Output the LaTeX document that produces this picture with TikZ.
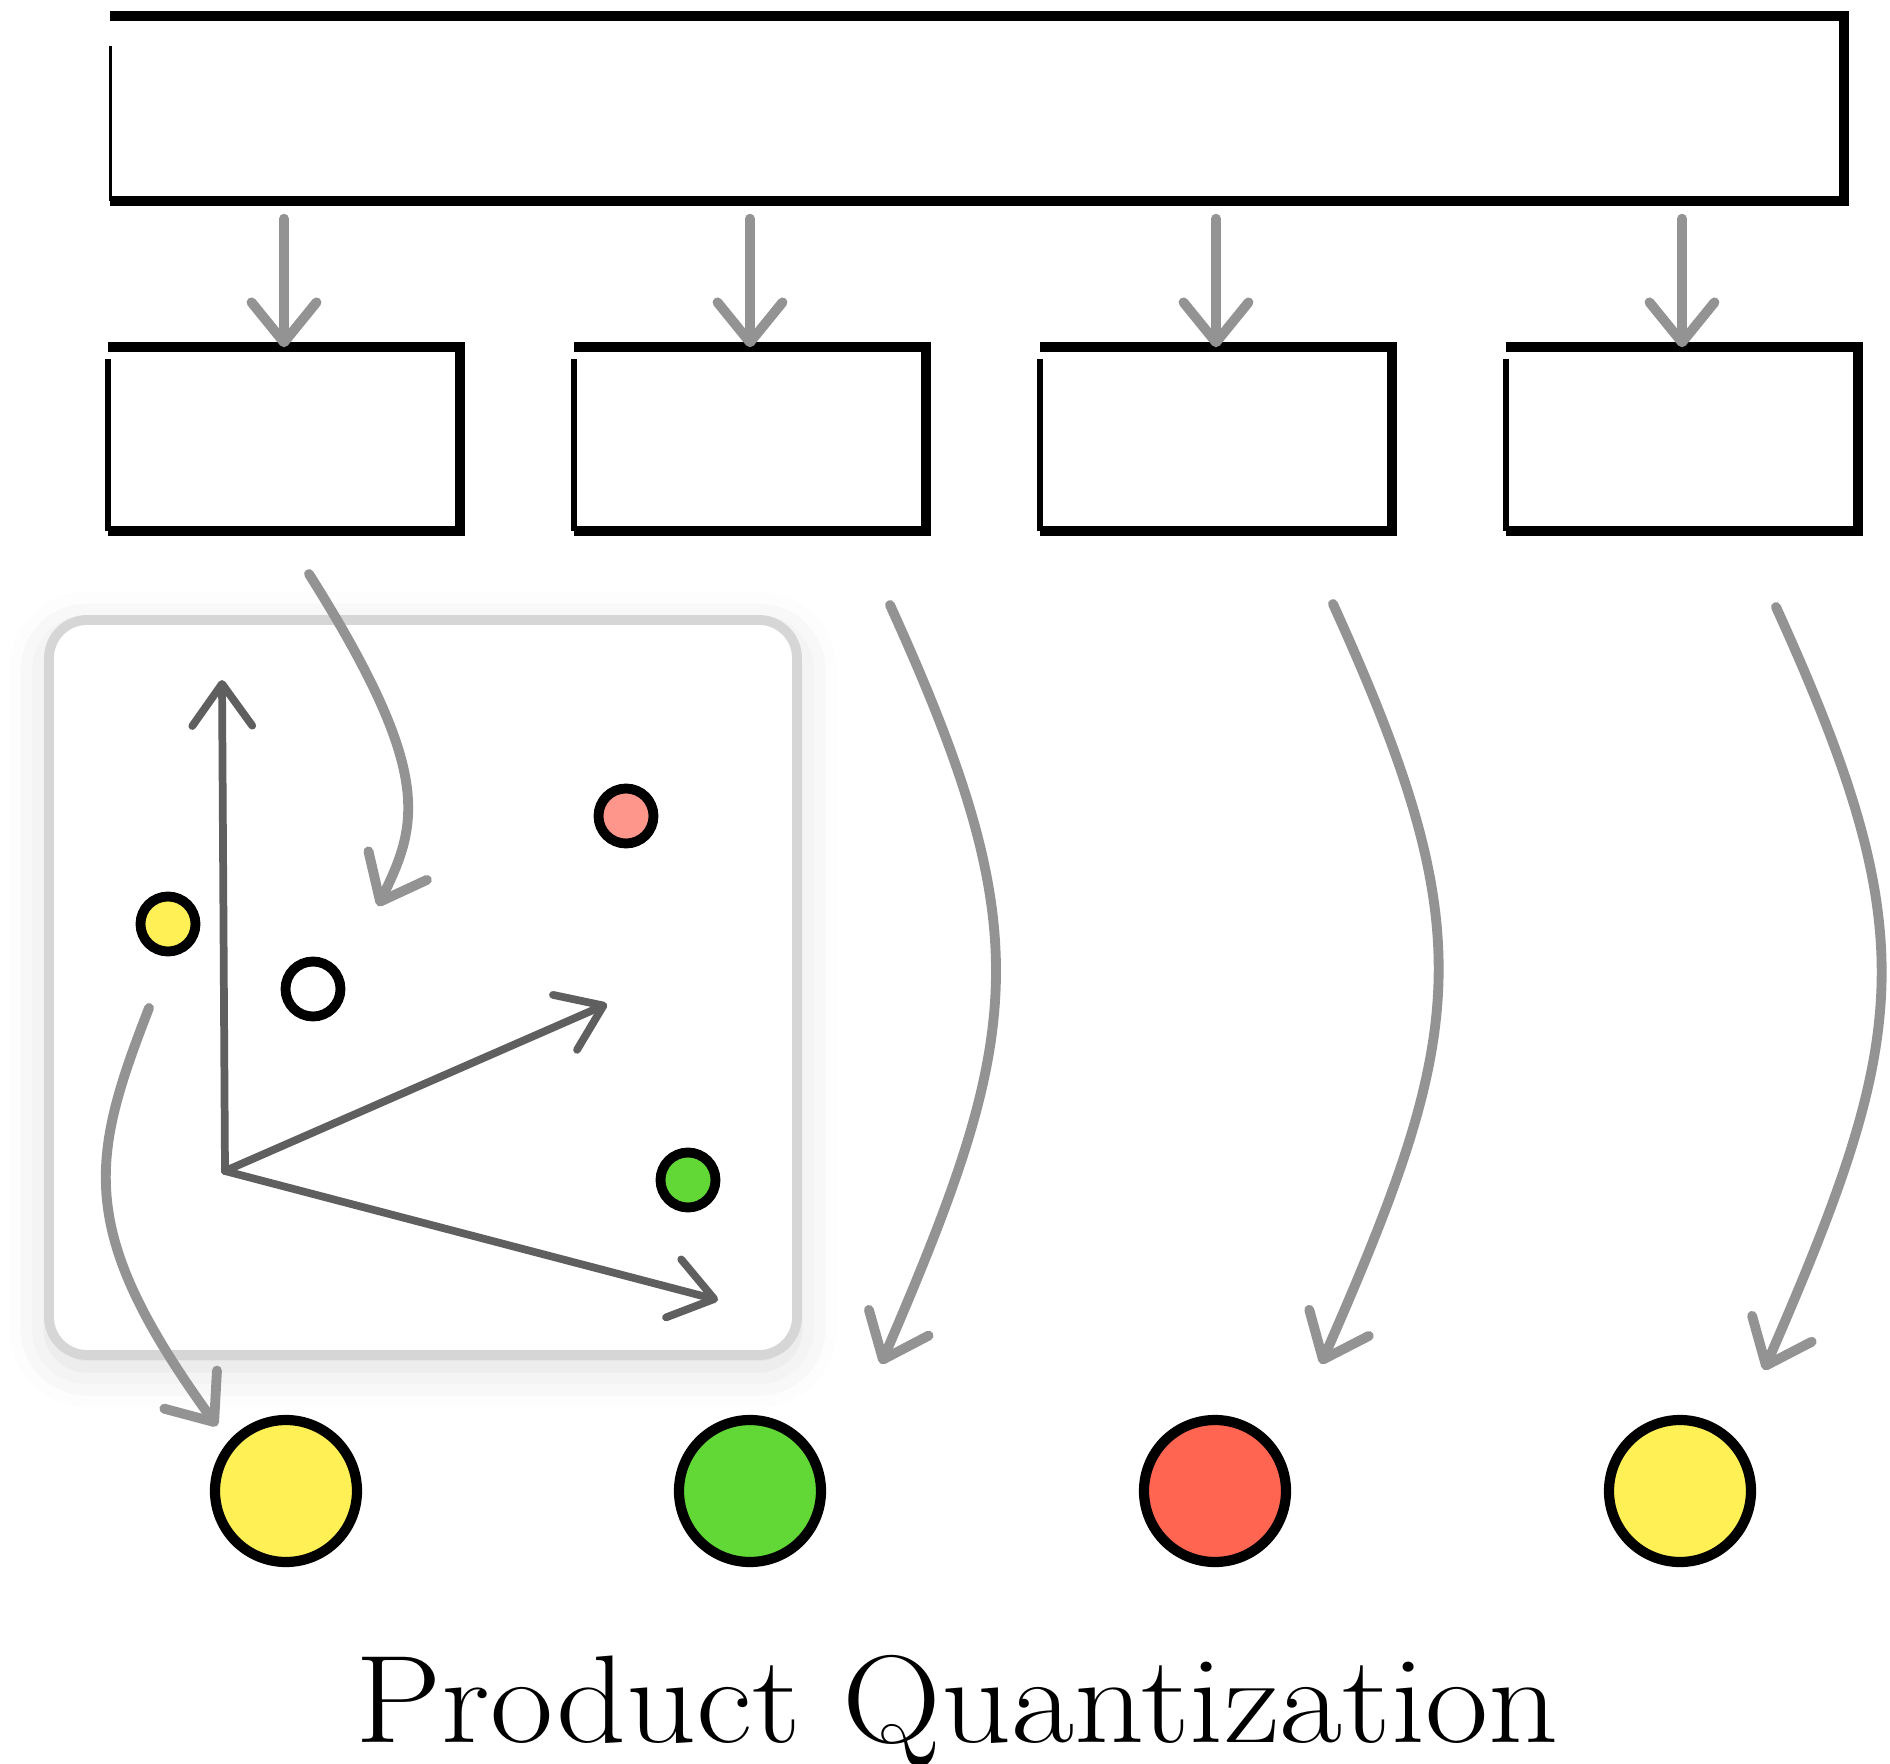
\documentclass[tikz,border=0pt]{standalone}
\usepackage{xcolor}
\usepackage{tikz}
\usetikzlibrary{arrows.meta}
\usetikzlibrary{shadows.blur}

\definecolor{pqyellow}{HTML}{FFF056}
\definecolor{pqgreen}{HTML}{61D836}
\definecolor{pqred}{HTML}{FF6550}
\definecolor{pqsalmon}{HTML}{FF968C}
\definecolor{pqarrow}{HTML}{939393}
\definecolor{pqaxis}{HTML}{5F5F5F}
\definecolor{pqframe}{HTML}{D6D6D6}

\begin{document}
\begin{tikzpicture}[x=1cm,y=-1cm,
  subbox/.style={inner sep=0,minimum width=3.5cm,minimum height=1.82cm},
  pen/.style={line width=2.9pt,line join=miter},
  centroid/.style={circle,draw,line width=2.9pt,inner sep=0,minimum size=1.42cm},
  point/.style={circle,draw,line width=2.8pt,inner sep=0,minimum size=0.55cm},
  flow/.style={pqarrow,line width=2.8pt,line cap=round,
    -{Straight Barb[length=4mm,width=6.5mm,round]}},
  axis/.style={pqaxis,line width=2.2pt,line cap=round,
    -{Straight Barb[length=4.2mm,width=6mm,round]}}]
\useasboundingbox (0,0) rectangle (18.9,17.64);

% full vector and its four sub-vectors (left sides drawn lighter)
\node[subbox,minimum width=17.32cm,minimum height=1.83cm] (vec) at (9.77,1.085) {};
\draw[pen] (vec.north west) -- (vec.north east) -- (vec.south east) -- (vec.south west);
\draw[line width=0.9pt] (vec.south west) -- ([yshift=-0.3cm]vec.north west);
\foreach \i/\x in {1/2.84,2/7.50,3/12.16,4/16.82}{
  \node[subbox] (sub\i) at (\x,4.39) {};
  \draw[pen] (sub\i.north west) -- (sub\i.north east) -- (sub\i.south east) -- (sub\i.south west);
  \draw[line width=1.8pt] (sub\i.south west) -- ([yshift=-0.12cm]sub\i.north west);
  \draw[flow,shorten <=0.18cm] (vec.south -| sub\i) -- (sub\i.north);
}

% sub-space with its centroids
\node[draw=pqframe,fill=white,line width=2.8pt,rounded corners=0.38cm,
  minimum width=7.48cm,minimum height=7.35cm,
  blur shadow={shadow xshift=0cm,shadow yshift=-0.12cm,
    shadow blur radius=0.4cm,shadow opacity=14}] (plane) at (4.23,9.875) {};

\coordinate (O) at (2.25,11.71);
\coordinate (ey) at (2.22,6.80);
\coordinate (e1) at (6.07,10.04);
\coordinate (e2) at (7.18,13.00);
\draw[axis] (O)--(ey);
\draw[axis] (O)--(e1);
\draw[axis] (O)--(e2);

\node[point,fill=pqyellow] (p1) at (1.68,9.24) {};
\node[point,fill=white] (px) at (3.13,9.89) {};
\node[point,fill=pqsalmon] (p2) at (6.26,8.16) {};
\node[point,fill=pqgreen] (p3) at (6.88,11.80) {};

% codes of the four sub-vectors
\node[centroid,fill=pqyellow] (c1) at (2.86,14.91) {};
\node[centroid,fill=pqgreen] (c2) at (7.50,14.91) {};
\node[centroid,fill=pqred] (c3) at (12.15,14.91) {};
\node[centroid,fill=pqyellow] (c4) at (16.80,14.91) {};

\coordinate (q1a) at (3.09,5.74);
\coordinate (q1b) at (3.78,9.06);
\coordinate (y1a) at (1.49,10.08);
\coordinate (y1b) at (2.17,14.26);
\coordinate (q2a) at (8.90,6.05);
\coordinate (q2b) at (8.81,13.64);
\coordinate (q3a) at (13.33,6.04);
\coordinate (q3b) at (13.21,13.64);
\coordinate (q4a) at (17.76,6.07);
\coordinate (q4b) at (17.64,13.70);

\draw[flow] (q1a) .. controls (4.35,7.74) and (4.18,8.24) .. (q1b);
\draw[flow] (y1a) .. controls (0.90,11.60) and (0.75,12.30) .. (y1b);
\draw[flow] (q2a) .. controls (10.40,9.35) and (10.24,10.32) .. (q2b);
\draw[flow] (q3a) .. controls (14.83,9.34) and (14.67,10.31) .. (q3b);
\draw[flow] (q4a) .. controls (19.26,9.37) and (19.10,10.34) .. (q4b);

\node[anchor=base,inner sep=0,font=\fontsize{35.5}{40}\selectfont]
  (title) at (9.57,17.42) {\scalebox{1.1}[1]{Product Quantization}};

\end{tikzpicture}
\end{document}
